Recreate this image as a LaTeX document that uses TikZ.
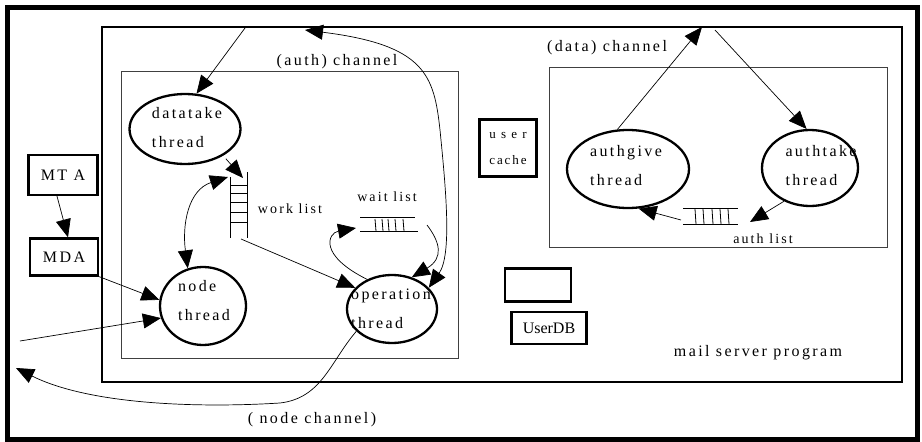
\documentclass[tikz,border=0pt]{standalone}
\usepackage{fontspec}
\setmainfont[LetterSpace=15]{Liberation Serif}
\newfontfamily\plainfont{Liberation Serif}
\usetikzlibrary{arrows.meta,shapes.geometric}

\tikzset{
  thread/.style={ellipse, draw, line width=2.3pt, inner sep=0pt},
  threadtext/.style={align=left, inner sep=0pt, font=\fontsize{16}{29}\selectfont},
  unit/.style={draw, line width=2.3pt, inner sep=0pt, align=center},
  channel/.style={draw=black!75, line width=0.9pt},
  rung/.style={line width=0.8pt},
  link/.style={-{Triangle[length=18pt,width=15pt]}, line width=0.7pt},
  twoway/.style={{Triangle[length=18pt,width=15pt]}-{Triangle[length=18pt,width=15pt]}, line width=0.7pt},
}

\begin{document}
\begin{tikzpicture}[x=1pt, y=-1pt, font=\fontsize{16}{19}\selectfont]

  \useasboundingbox (0,0) rectangle (922,442);

  % frames
  \draw[line width=5pt] (7,7) rectangle (917,439);
  \draw[line width=1.1pt] (102,27) rectangle (902,382);
  \draw[channel] (121,71) rectangle (458,358);
  \draw[channel] (549,67) rectangle (887,247);

  % channel labels
  \node (authch) at (337,62) {(auth) channel};
  \node (datach) at (607,48) {(data) channel};
  \node (nodech) at (312,420) {( node channel)};
  \node (server) at (758,353) {mail server program};

  % threads
  \node[thread, minimum width=111, minimum height=70] (datatake) at (185,129) {};
  \node[threadtext] (datatake-txt) at (187,128) {datatake\\thread};
  \node[thread, minimum width=86, minimum height=78] (nodethr) at (203,306) {};
  \node[threadtext] (nodethr-txt) at (204,301) {node\\thread};
  \node[thread, minimum width=90, minimum height=68] (operation) at (392,309) {};
  \node[threadtext] (operation-txt) at (391,309) {operation\\thread};
  \node[thread, minimum width=122, minimum height=78] (authgive) at (628,169) {};
  \node[threadtext] (authgive-txt) at (626,166) {authgive\\thread};
  \node[thread, minimum width=96, minimum height=76] (authtake) at (810,168) {};
  \node[threadtext] (authtake-txt) at (821,166) {authtake\\thread};

  % boxes
  \node[unit, minimum width=69, minimum height=40] (mta) at (63,175) {MT A};
  \node[unit, minimum width=68, minimum height=37] (mda) at (64,257) {MDA};
  \node[unit, minimum width=57, minimum height=57, font=\fontsize{13}{26}\selectfont]
    (cache) at (508,148) {u s e r\\cache};
  \node[unit, minimum width=66, minimum height=33] (spare) at (538,285) {};
  \node[unit, minimum width=75, minimum height=32, font=\plainfont\fontsize{16}{19}\selectfont]
    (userdb) at (549,328) {UserDB};

  % work list
  \draw[rung] (230,177) -- (230,238);
  \draw[rung] (247,172) -- (247,238);
  \foreach \yy in {185,193,202,212,222}
    \draw[rung] (230,\yy) -- (247,\yy);
  \node[font=\fontsize{14}{17}\selectfont] (worklbl) at (290,209) {work list};

  % wait list
  \draw[rung] (360,217) -- (415,217);
  \draw[rung] (360,231) -- (418,231);
  \foreach \xx in {375,382,388,395,403}
    \draw[rung] (\xx,219) -- (\xx+1,231);
  \node[font=\fontsize{14}{17}\selectfont] (waitlbl) at (387,197) {wait list};

  % auth list
  \draw[rung] (683,208) -- (738,208);
  \draw[rung] (683,224) -- (738,224);
  \foreach \xx in {695,703,712,720,728}
    \draw[rung] (\xx,209) -- (\xx+1,224);
  \node[font=\fontsize{14}{17}\selectfont] (authlbl) at (763,239) {auth list};

  % free ends
  \coordinate (authin) at (245,28);
  \coordinate (opin) at (305,30);
  \coordinate (workin) at (228,177);
  \coordinate (worktop) at (243,178);
  \coordinate (workout) at (241,239);
  \coordinate (waitin) at (356,228);
  \coordinate (waitout) at (427,225);
  \coordinate (leftin) at (20,341);
  \coordinate (leftout) at (16,368);
  \coordinate (dataup) at (702,27);
  \coordinate (datadown) at (715,30);
  \coordinate (authlistR) at (750,222);
  \coordinate (authlistL) at (681,220);

  % auth channel
  \draw[link] (authin) -- (datatake.72);
  \draw[twoway] (operation.30) .. controls (452,255) and (446,190) .. (440,130)
    .. controls (434,75) and (425,45) .. (opin);
  \draw[link, shorten <=4pt] (datatake.-35) -- (worktop);
  \draw[twoway] (nodethr.112) .. controls (182,225) and (188,190) .. (workin);
  \draw[link] (workout) -- (operation.150);
  \draw[link] (operation.130) .. controls (318,255) and (328,233) .. (waitin);
  \draw[link] (waitout) .. controls (440,242) and (444,258) .. (operation.58);

  % node channel
  \draw[link] ([xshift=-6pt]mta.south) -- ([xshift=4pt]mda.north);
  \draw[link] (mda.south east) -- (nodethr.172);
  \draw[link] (leftin) -- (nodethr.196);
  \draw[link] (operation.-148) .. controls (330,362) and (322,398) .. (280,403)
    .. controls (200,408) and (90,405) .. (leftout);

  % data channel
  \draw[link] (authgive.105) -- (dataup);
  \draw[link] (datadown) -- (authtake.95);
  \draw[link] (authtake.-128) -- (authlistR);
  \draw[link] (authlistL) -- (authgive.-75);

\end{tikzpicture}
\end{document}
